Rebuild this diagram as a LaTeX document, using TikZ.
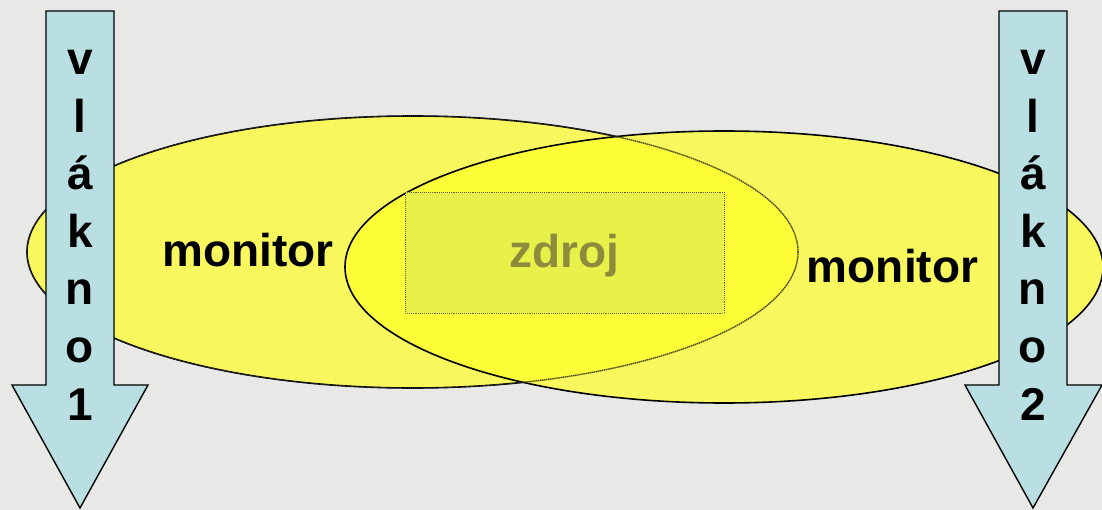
\documentclass[tikz,border=0pt]{standalone}
\usepackage{fontspec}
\setmainfont{Liberation Sans}
\usetikzlibrary{shapes.geometric}
\definecolor{bg}{HTML}{E8E8E6}
\definecolor{ell}{HTML}{FFFF2A}
\definecolor{arrowfill}{HTML}{B9DFE2}
\definecolor{srcfill}{HTML}{E4F04E}
\definecolor{srctext}{HTML}{8C8C3C}
\tikzset{
  bigell/.style={ellipse, inner sep=0pt, fill=ell, fill opacity=0.72, draw=black, draw opacity=1, line width=1.6pt},
  seethrough/.style={ellipse, inner sep=0pt, draw=black!80, densely dotted, line width=1.1pt},
  thread/.style={fill=arrowfill, draw=black, line width=1.4pt, line join=miter},
  letter/.style={font=\fontsize{46}{46}\selectfont\bfseries, anchor=base, inner sep=0pt},
  srcbox/.style={draw=srctext!70!black, densely dotted, line width=0.9pt, fill=srcfill, fill opacity=0.85, draw opacity=1, inner sep=0pt},
}
\begin{document}
\begin{tikzpicture}[x=1pt,y=-1pt]
\fill[bg] (0,0) rectangle (1102,510);
\useasboundingbox (0,0) rectangle (1102,510);
% ellipses
\node[bigell, minimum width=771pt, minimum height=272pt] (mon1) at (412.5,252) {};
\node[bigell, minimum width=758pt, minimum height=272pt] (mon2) at (724,267) {};
\node[seethrough, minimum width=771pt, minimum height=272pt] (mon1edge) at (412.5,252) {};
% source rectangle
\node[srcbox, minimum width=319pt, minimum height=121pt] (src) at (564.5,252.5) {};
\node[letter, text=srctext, text opacity=1] (srclabel) at (564.5,268) {zdroj};
% monitor labels
\node[letter] (m1) at (248,267) {monitor};
\node[letter] (m2) at (892.5,283) {monitor};
% thread arrows
\draw[thread] (46,11) coordinate (a1) -- (114,11) -- (114,385) -- (148,385) -- (80,508) coordinate (t1) -- (12,385) -- (46,385) -- cycle;
\draw[thread] (999,11) coordinate (a2) -- (1067,11) -- (1067,385) -- (1102,385) -- (1033,508) coordinate (t2) -- (965,385) -- (999,385) -- cycle;
\foreach \c [count=\i] in {v,l,á,k,n,o,1} {
  \node[letter] (la\i) at (80,{75+57.5*(\i-1)}) {\c};
}
\foreach \c [count=\i] in {v,l,á,k,n,o,2} {
  \node[letter] (lb\i) at (1033,{75+57.5*(\i-1)}) {\c};
}
\end{tikzpicture}
\end{document}
